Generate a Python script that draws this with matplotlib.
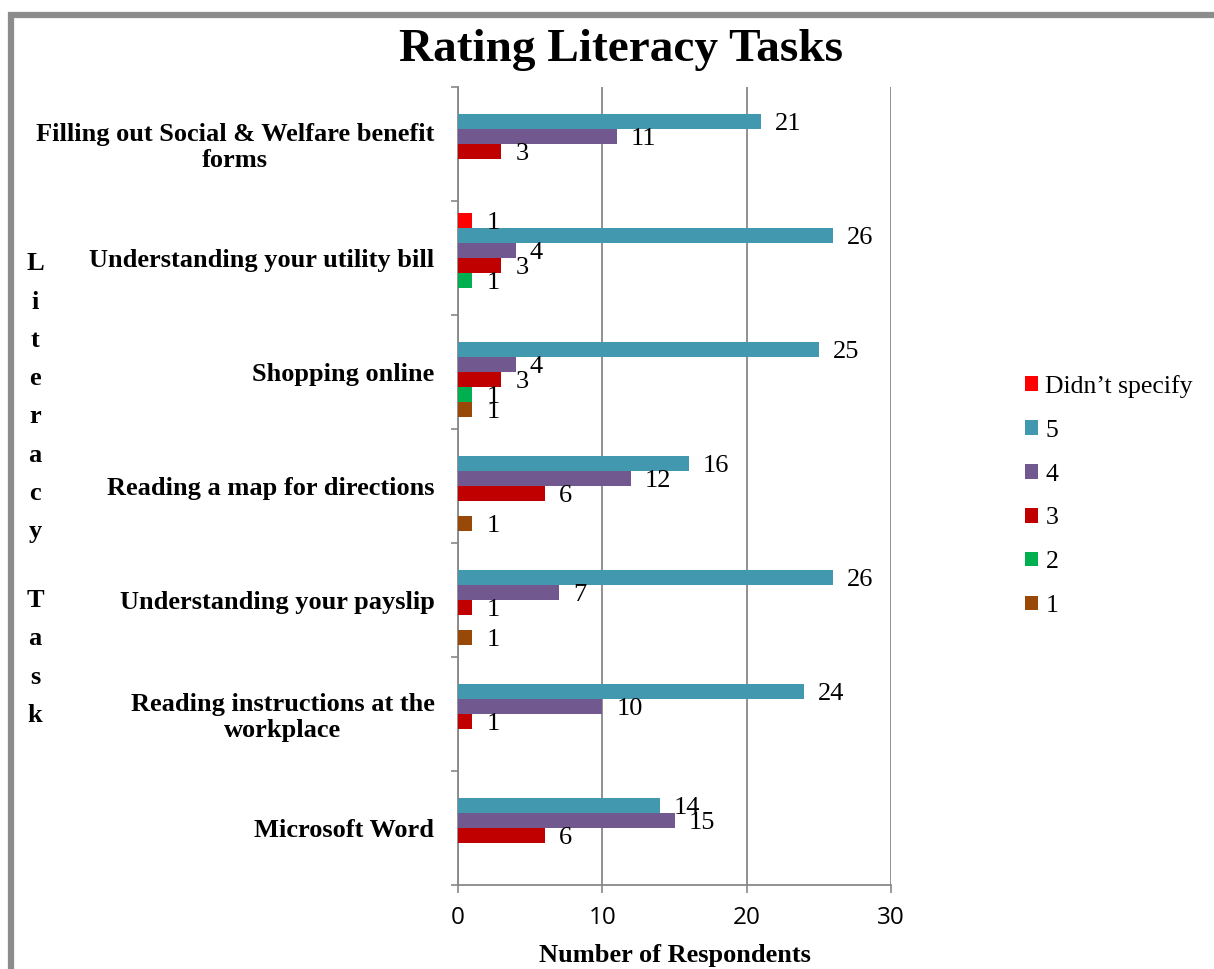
import numpy as np
import matplotlib
matplotlib.use('Agg')
import matplotlib.pyplot as plt
from matplotlib.patches import Rectangle

# categories bottom -> top
tasks = ['Microsoft Word',
         'Reading instructions at the\nworkplace',
         'Understanding your payslip',
         'Reading a map for directions',
         'Shopping online',
         'Understanding your utility bill',
         'Filling out Social & Welfare benefit\nforms']

series_names = ["Didn\u2019t specify", '5', '4', '3', '2', '1']
didnt_specify = [0, 0, 0, 0, 0, 1, 0]
rating_5 = [14, 24, 26, 16, 25, 26, 21]
rating_4 = [15, 10, 7, 12, 4, 4, 11]
rating_3 = [6, 1, 1, 6, 3, 3, 3]
rating_2 = [0, 0, 0, 0, 1, 1, 0]
rating_1 = [0, 0, 1, 1, 1, 0, 0]
colors = ['#ff0000', '#4198af', '#71588f', '#c00000', '#00b050', '#984807']

series = [didnt_specify, rating_5, rating_4, rating_3, rating_2, rating_1]

serif = 'Liberation Serif'
fig = plt.figure(figsize=(12.14, 9.69), dpi=100)
ax = fig.add_axes([458/1214, 1-885/969, 433/1214, 798/969])

y = np.arange(len(tasks))
h = 0.79/6
for j, (vals, name, c) in enumerate(zip(series, series_names, colors)):
    pos = y + (2.5 - j)*h
    ax.barh(pos, vals, height=h, color=c, label=name, zorder=3)
    for p, v in zip(pos, vals):
        if v > 0:
            ax.annotate(str(v), (v, p), xytext=(10, -2), textcoords='offset points',
                        ha='left', va='center', fontsize=19, family=serif, zorder=4)

ax.set_xlim(0, 30)
ax.set_ylim(-0.5, 6.5)
ax.set_xticks([0, 10, 20, 30])
ax.set_xticklabels(['0', '10', '20', '30'], family='Open Sans', fontsize=17.5)
ax.tick_params(axis='x', length=6, width=1.2, color='#888888', pad=9)
ax.grid(axis='x', color='#888888', lw=1.3, zorder=0)

ax.set_yticks(np.arange(-0.5, 7, 1))
ax.set_yticklabels([])
ax.tick_params(axis='y', which='major', length=5, width=1.2, color='#888888')
ax.set_yticks(y, minor=True)
ax.set_yticklabels(tasks, minor=True, fontsize=19, family=serif, weight='bold',
                   multialignment='center', linespacing=1.15)
ax.tick_params(axis='y', which='minor', length=0, pad=17)

for s in ['top', 'right']:
    ax.spines[s].set_visible(False)
for s in ['left', 'bottom']:
    ax.spines[s].set_color('#888888')
    ax.spines[s].set_linewidth(1.3)

ax.set_xlabel('Number of Respondents', fontsize=19, family=serif, weight='bold', labelpad=10)

fig.text(621/1214, 1-50/969, 'Rating Literacy Tasks', ha='center', va='center',
         fontsize=34, family=serif, weight='bold')

# vertical axis title, one letter per line
ylab = 'Literacy Task'
ypos = 264
for ch in ylab:
    if ch == ' ':
        ypos += 31
        continue
    fig.text(35/1214, 1-ypos/969, ch, ha='center', va='center',
             fontsize=19, family=serif, weight='bold')
    ypos += 38.2

leg = ax.legend(loc='center left', bbox_to_anchor=(1012/1214, 1-496/969),
                bbox_transform=fig.transFigure, frameon=False,
                prop={'family': serif, 'size': 18.5}, handlelength=0.5,
                handleheight=0.5, handletextpad=0.3, labelspacing=0.85, borderpad=0)

fig.patches.append(Rectangle((11/1214, -0.1), 1.2, 1.1-15/969, transform=fig.transFigure,
                             fill=False, edgecolor='#8c8c8c', lw=4.5))

fig.savefig('out.png', dpi=100)
